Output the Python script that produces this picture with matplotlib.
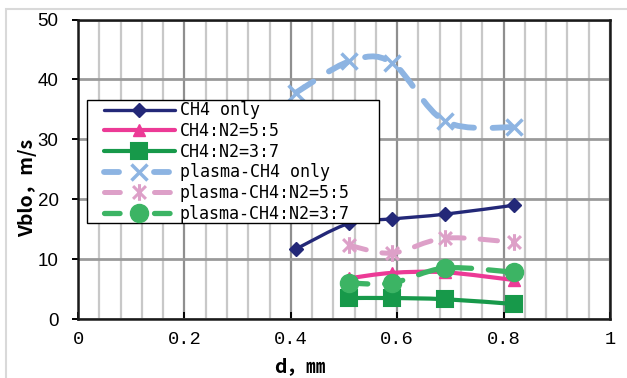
import numpy as np
import matplotlib
matplotlib.use("Agg")
import matplotlib.pyplot as plt
from matplotlib.path import Path
from matplotlib.patches import PathPatch, Rectangle
from matplotlib.lines import Line2D
from matplotlib.ticker import MultipleLocator

# data
d_ch4 = [0.41, 0.51, 0.59, 0.69, 0.82]
d_n2 = [0.51, 0.59, 0.69, 0.82]
ch4_only = [11.7, 16.0, 16.7, 17.5, 19.0]
ch4_n2_55 = [6.8, 7.7, 7.8, 6.5]
ch4_n2_37 = [3.5, 3.5, 3.3, 2.5]
plasma_only = [37.8, 43.0, 42.8, 33.0, 32.0]
plasma_n2_55 = [12.3, 11.0, 13.5, 12.8]
plasma_n2_37 = [6.0, 6.0, 8.5, 7.8]

labels = ['CH4 only', 'CH4:N2=5:5', 'CH4:N2=3:7',
          'plasma-CH4 only', 'plasma-CH4:N2=5:5', 'plasma-CH4:N2=3:7']
xticks = [0, 0.2, 0.4, 0.6, 0.8, 1]
xtick_labels = ['0', '0.2', '0.4', '0.6', '0.8', '1']
yticks = [0, 10, 20, 30, 40, 50]

# asterisk marker (x with a vertical bar)
star = Path([(-1, -1), (1, 1), (-1, 1), (1, -1), (0, -1.3), (0, 1.3)],
            [Path.MOVETO, Path.LINETO] * 3)


def smooth_path(x, y):
    # excel style smoothed line as cubic bezier segments
    pts = np.column_stack([x, y]).astype(float)
    n = len(pts)
    verts = [pts[0]]
    codes = [Path.MOVETO]
    for i in range(n - 1):
        p0 = pts[max(i - 1, 0)]
        p1 = pts[i]
        p2 = pts[i + 1]
        p3 = pts[min(i + 2, n - 1)]
        verts += [p1 + (p2 - p0) / 6, p2 - (p3 - p1) / 6, p2]
        codes += [Path.CURVE4] * 3
    return Path(verts, codes)


series = [
    (d_ch4, ch4_only, dict(color='#232878', lw=2.4, dashed=False, marker='D', ms=7, mew=1)),
    (d_n2, ch4_n2_55, dict(color='#EC3A96', lw=3.0, dashed=False, marker='^', ms=9, mew=1)),
    (d_n2, ch4_n2_37, dict(color='#17994A', lw=3.0, dashed=False, marker='s', ms=11, mew=1.5)),
    (d_ch4, plasma_only, dict(color='#8DB4E2', lw=4.2, dashed=True, marker='x', ms=11, mew=2.5)),
    (d_n2, plasma_n2_55, dict(color='#DDA0C8', lw=3.6, dashed=True, marker=star, ms=12, mew=2.2)),
    (d_n2, plasma_n2_37, dict(color='#3CB464', lw=3.8, dashed=True, marker='o', ms=13, mew=1)),
]

fig = plt.figure(figsize=(6.27, 3.78), dpi=100)
ax = fig.add_axes([78 / 627, 1 - 319 / 378, 532 / 627, 299.5 / 378])

handle_len = 4.25
leg_size = 12
handles = []
for i, (xs, ys, st) in enumerate(series):
    z = 3 + i * 0.1
    L = st['lw']
    if st['dashed']:
        ls = (0, (3.5, 3.2))
        # legend: dash - marker - dash, symmetric in the handle
        total = handle_len * leg_size
        leg_ls = (0, ((15 - L) / L, (total - 30 + L) / L))
    else:
        ls = '-'
        leg_ls = '-'
    patch = PathPatch(smooth_path(xs, ys), fill=False, edgecolor=st['color'],
                      lw=L, linestyle=ls, capstyle='round',
                      joinstyle='round', zorder=z)
    ax.add_patch(patch)
    ax.plot(xs, ys, ls='none', marker=st['marker'], ms=st['ms'], mew=st['mew'],
            color=st['color'], mfc=st['color'], mec=st['color'], zorder=z + 0.05)
    handles.append(Line2D([], [], color=st['color'], lw=L, ls=leg_ls,
                          marker=st['marker'], ms=st['ms'], mew=st['mew'],
                          mfc=st['color'], mec=st['color'],
                          dash_capstyle='round', solid_capstyle='round'))

ax.set_xlim(0, 1)
ax.set_ylim(0, 50)
ax.set_xticks(xticks)
ax.set_xticklabels(xtick_labels)
ax.set_yticks(yticks)
ax.xaxis.set_minor_locator(MultipleLocator(0.04))
ax.set_axisbelow(True)
ax.grid(which='minor', axis='x', color='#c8c8c8', lw=1.6)
ax.grid(which='major', axis='x', color='#8f8f8f', lw=1.6)
ax.grid(which='major', axis='y', color='#9a9a9a', lw=2.0)
ax.tick_params(axis='x', which='major', direction='in', length=5, width=1.4,
               pad=9, labelsize=13.5)
ax.tick_params(axis='x', which='minor', length=0)
ax.tick_params(axis='y', direction='out', length=4, width=1.4, pad=10, labelsize=13.5)
for lab in ax.get_xticklabels():
    lab.set_fontfamily('Liberation Mono')
for lab in ax.get_yticklabels():
    lab.set_fontfamily('Liberation Sans')
for sp in ax.spines.values():
    sp.set_linewidth(1.8)
    sp.set_color('#1a1a1a')

# legend box
box = Rectangle(((87 - 78) / 532, (319 - 223) / 300), (379 - 87) / 532, 123 / 300,
                transform=ax.transAxes, facecolor='white', edgecolor='black',
                lw=1.0, zorder=6)
ax.add_patch(box)
leg = ax.legend(handles, labels, loc='upper left',
                bbox_to_anchor=((104 - 78) / 532, (319 - 101) / 300),
                frameon=False, borderpad=0, borderaxespad=0, labelspacing=0.16,
                handlelength=handle_len, handletextpad=0.3,
                prop={'family': 'DejaVu Sans Mono', 'size': leg_size})
leg.set_zorder(7)

fig.text(300 / 627, 1 - 367 / 378, 'd，㎜', ha='center', va='center',
         fontsize=14, fontweight='bold', family=['Noto Sans CJK JP', 'DejaVu Sans'])
fig.text(28 / 627, 1 - 188 / 378, 'Vblo，m/s', ha='center', va='center',
         rotation=90, fontsize=14, fontweight='bold',
         family=['Noto Sans CJK JP', 'DejaVu Sans'])

# chart area border
fig.add_artist(Rectangle((6 / 627, -0.2), 2, 1.2 - 9 / 378, transform=fig.transFigure,
                         fill=False, edgecolor='#d9d9d9', lw=1.5))

fig.savefig('out.png', dpi=100)
